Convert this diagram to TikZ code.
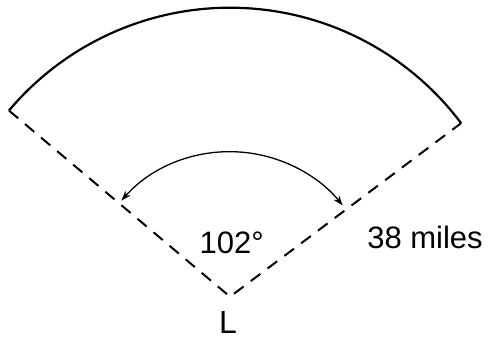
\documentclass[tikz,border=0pt]{standalone}
\usepackage{fontspec}
\setmainfont{Liberation Sans}
\usetikzlibrary{arrows.meta,calc}

\begin{document}
\begin{tikzpicture}[x=1pt,y=1pt,
    rim/.style={line width=2.2pt},
    radial/.style={line width=2pt,dash pattern=on 12pt off 9pt},
    angarr/.style={{Stealth[length=10pt,width=7pt]}-{Stealth[length=10pt,width=7pt]},line width=1.3pt},
    lbl/.style={font=\fontsize{31}{36}\selectfont,inner sep=0pt},
]
\useasboundingbox (0,0) rectangle (490,339);
\coordinate (L) at (230,42.3);
\coordinate (A) at ($(L)+(139.9:289)$);
\coordinate (B) at ($(L)+(36.9:289)$);
\coordinate (a1) at ($(L)+(138.5:145)$);

\draw[radial] (A) -- (L) -- (B);
\draw[rim] (A) arc[start angle=139.9,end angle=36.9,radius=289];
\draw[angarr] (a1) arc[start angle=138.5,end angle=39,radius=145];

\node[lbl] (ang) at (231.7,95.7) {102°};
\node[lbl] (dist) at (425,102) {38 miles};
\node[lbl,font=\fontsize{32}{37}\selectfont] (vL) at (228,17) {L};
\end{tikzpicture}
\end{document}
